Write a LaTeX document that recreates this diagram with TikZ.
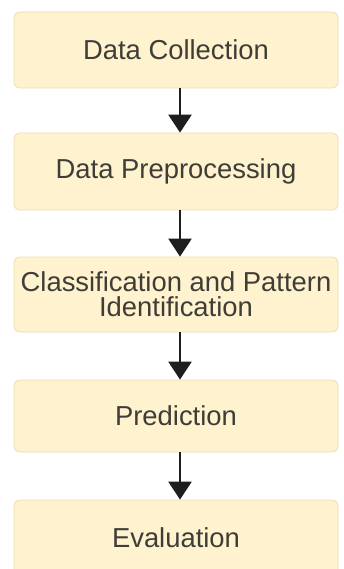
\documentclass[tikz,border=0pt]{standalone}
\usepackage{fontspec}
\setmainfont{Liberation Sans}
\usetikzlibrary{arrows.meta}
\definecolor{boxfill}{HTML}{FFF2CF}
\definecolor{boxline}{HTML}{EEDDB2}
\definecolor{txt}{HTML}{3E3D36}
\definecolor{arr}{HTML}{1E1E1E}
\begin{document}
\begin{tikzpicture}[x=1pt,y=1pt,
  stepbox/.style={draw=boxline,line width=0.8pt,fill=boxfill,rounded corners=6pt,
    minimum width=324pt,inner sep=0pt,align=center,text=txt,
    font=\fontsize{27.4}{25}\selectfont},
  flowarrow/.style={draw=arr,line width=2.6pt,-{Triangle[length=18pt,width=23pt]}}]
\useasboundingbox (0,0) rectangle (343,-569);
\fill[white] (0,0) rectangle (343,-569);
\node[stepbox,minimum height=76pt] (a) at (176,-50) {Data Collection};
\node[stepbox,minimum height=77pt] (b) at (176,-171.5) {Data Preprocessing};
\node[stepbox,minimum height=75pt] (c) at (176,-294.5) {Classification and Pattern\\Identification};
\node[stepbox,minimum height=72pt] (d) at (176,-416) {Prediction};
\node[stepbox,minimum height=76pt] (e) at (176,-538) {Evaluation};
\draw[flowarrow] ([xshift=4pt]a.south) -- ([xshift=4pt]b.north);
\draw[flowarrow] ([xshift=4pt]b.south) -- ([xshift=4pt]c.north);
\draw[flowarrow] ([xshift=4pt]c.south) -- ([xshift=4pt]d.north);
\draw[flowarrow] ([xshift=4pt]d.south) -- ([xshift=4pt]e.north);
\end{tikzpicture}
\end{document}
